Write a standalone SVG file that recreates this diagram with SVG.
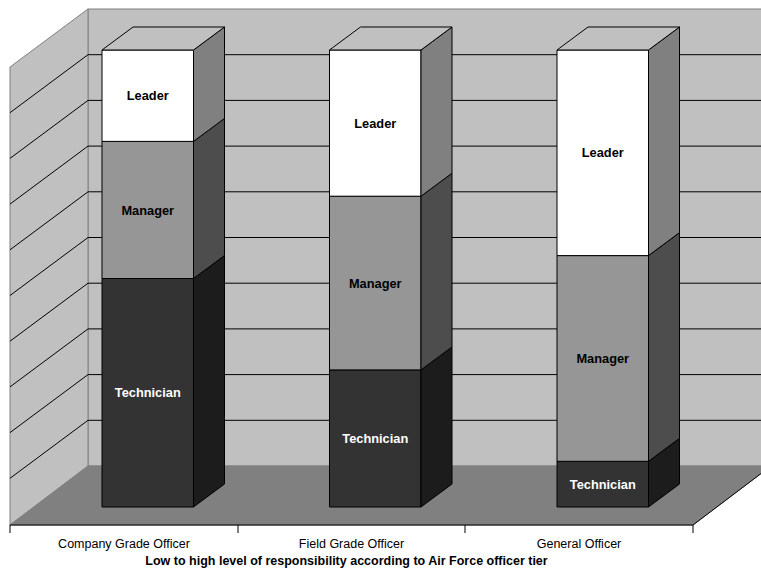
<svg xmlns="http://www.w3.org/2000/svg" width="761" height="571" viewBox="0 0 761 571">
<style>
.wall{fill:#c0c0c0;stroke:#808080;stroke-width:1}
.grid{stroke:#000;stroke-width:1;fill:none}
.floor{fill:#808080;stroke:#808080;stroke-width:1}
.edge{stroke:#000;stroke-width:1;fill:none}
.seg{stroke:#000;stroke-width:1;stroke-linejoin:round}
.lf{fill:#ffffff}.ls{fill:#808080}.lt{fill:#c0c0c0}
.mf{fill:#969696}.ms{fill:#4d4d4d}
.tf{fill:#333333}.ts{fill:#1c1c1c}
.lbl{font-family:"Liberation Sans",Arial,sans-serif;font-weight:bold;font-size:12.8px;text-anchor:middle}
.dk{fill:#000}.wh{fill:#ffffff}
.cat{font-family:"Liberation Sans",Arial,sans-serif;font-size:12.5px;text-anchor:middle;fill:#000}
.ttl{font-family:"Liberation Sans",Arial,sans-serif;font-size:12.5px;font-weight:bold;text-anchor:middle;fill:#000}
</style>
<rect width="761" height="571" fill="#ffffff"/>
<g id="walls">
<rect class="wall" x="88" y="9" width="680" height="457"/>
<polygon class="wall" points="10,67 88,9 88,466 10,525"/>
</g>
<g id="gridlines">
<path class="grid" d="M88,54.7H761M88,100.4H761M88,146.1H761M88,191.8H761M88,237.5H761M88,283.2H761M88,328.9H761M88,374.6H761M88,420.3H761"/>
<path class="grid" d="M10,112.7L88,54.7M10,158.4L88,100.4M10,204.1L88,146.1M10,249.8L88,191.8M10,295.5L88,237.5M10,341.2L88,283.2M10,386.9L88,328.9M10,432.6L88,374.6M10,478.3L88,420.3"/>
</g>
<g id="floor">
<polygon class="floor" points="10,525 88,466 771,466 693,525"/>
<line class="edge" x1="10" y1="525" x2="693" y2="525"/>
<line class="edge" x1="693" y1="525" x2="771" y2="466"/>
<path class="edge" d="M10,525V533M238,525V533M465,525V533M693,525V533"/>
</g>
<g id="bar-company">
<rect class="seg tf" x="102" y="278.5" width="91.5" height="228.5"/>
<polygon class="seg ts" points="193.5,278.5 224.5,255.5 224.5,484 193.5,507"/>
<rect class="seg mf" x="102" y="141.4" width="91.5" height="137.1"/>
<polygon class="seg ms" points="193.5,141.4 224.5,118.4 224.5,255.5 193.5,278.5"/>
<rect class="seg lf" x="102" y="50" width="91.5" height="91.4"/>
<polygon class="seg ls" points="193.5,50 224.5,27 224.5,118.4 193.5,141.4"/>
<polygon class="seg lt" points="102,50 133,27 224.5,27 193.5,50"/>
<text class="lbl dk" x="147.75" y="100.2">Leader</text>
<text class="lbl dk" x="147.75" y="214.5">Manager</text>
<text class="lbl wh" x="147.75" y="397">Technician</text>
</g>
<g id="bar-field">
<rect class="seg tf" x="329.5" y="369.9" width="91.5" height="137.1"/>
<polygon class="seg ts" points="421,369.9 452,346.9 452,484 421,507"/>
<rect class="seg mf" x="329.5" y="196.2" width="91.5" height="173.7"/>
<polygon class="seg ms" points="421,196.2 452,173.2 452,346.9 421,369.9"/>
<rect class="seg lf" x="329.5" y="50" width="91.5" height="146.2"/>
<polygon class="seg ls" points="421,50 452,27 452,173.2 421,196.2"/>
<polygon class="seg lt" points="329.5,50 360.5,27 452,27 421,50"/>
<text class="lbl dk" x="375.25" y="127.6">Leader</text>
<text class="lbl dk" x="375.25" y="287.5">Manager</text>
<text class="lbl wh" x="375.25" y="443">Technician</text>
</g>
<g id="bar-general">
<rect class="seg tf" x="557" y="461.3" width="91.5" height="45.7"/>
<polygon class="seg ts" points="648.5,461.3 679.5,438.3 679.5,484 648.5,507"/>
<rect class="seg mf" x="557" y="255.6" width="91.5" height="205.7"/>
<polygon class="seg ms" points="648.5,255.6 679.5,232.6 679.5,438.3 648.5,461.3"/>
<rect class="seg lf" x="557" y="50" width="91.5" height="205.6"/>
<polygon class="seg ls" points="648.5,50 679.5,27 679.5,232.6 648.5,255.6"/>
<polygon class="seg lt" points="557,50 588,27 679.5,27 648.5,50"/>
<text class="lbl dk" x="602.75" y="157.3">Leader</text>
<text class="lbl dk" x="602.75" y="363">Manager</text>
<text class="lbl wh" x="602.75" y="488.7">Technician</text>
</g>
<g id="axis-labels">
<text class="cat" x="124" y="548">Company Grade Officer</text>
<text class="cat" x="351.5" y="548">Field Grade Officer</text>
<text class="cat" x="579" y="548">General Officer</text>
<text class="ttl" x="346.5" y="564.5">Low to high level of responsibility according to Air Force officer tier</text>
</g>
</svg>
